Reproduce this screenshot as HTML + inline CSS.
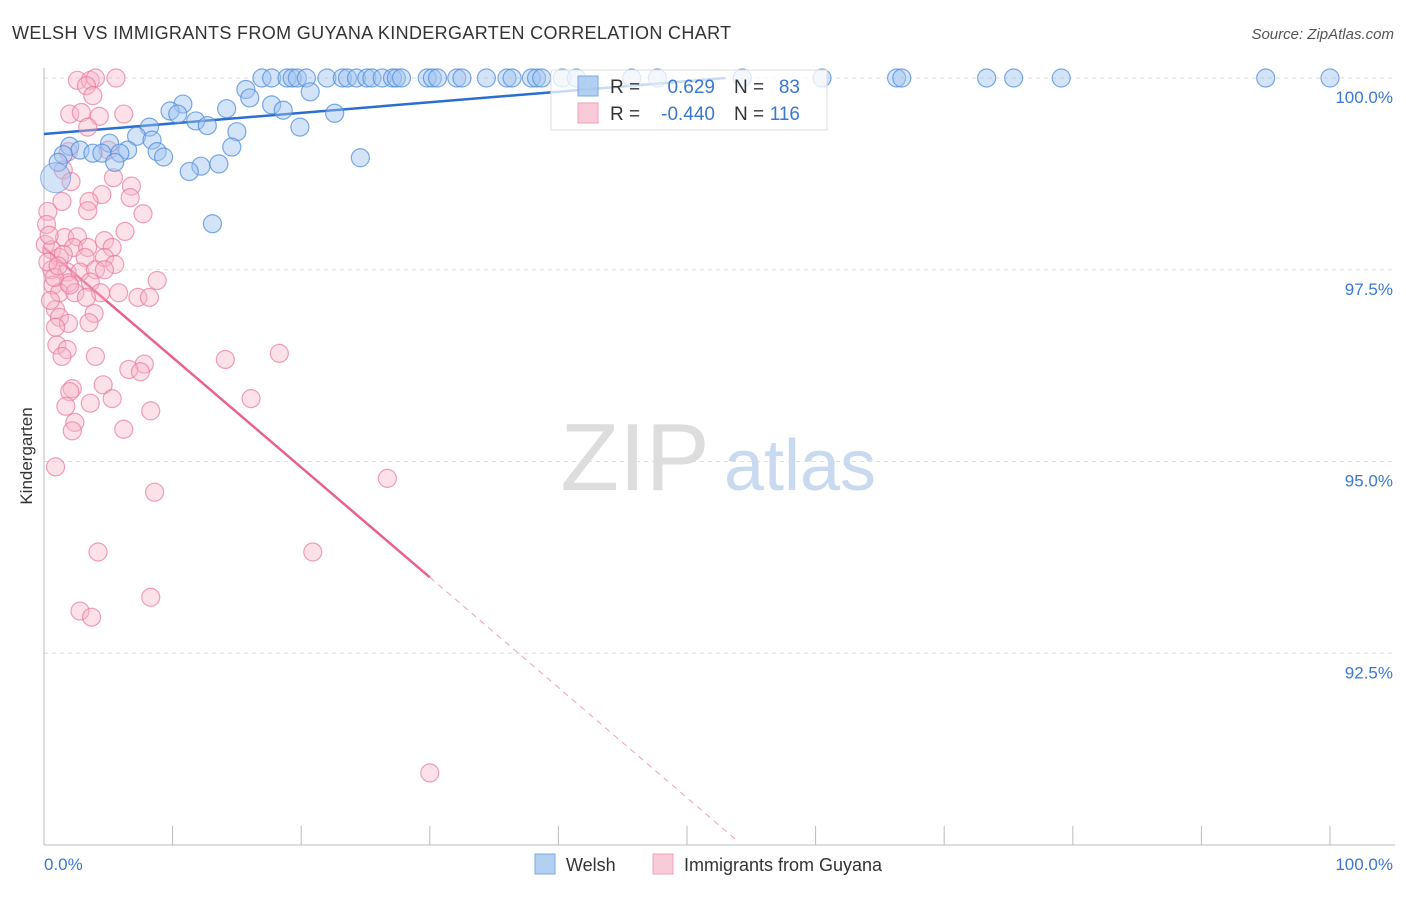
<!DOCTYPE html>
<html><head><meta charset="utf-8"><style>
body{margin:0;background:#fff;font-family:"Liberation Sans",sans-serif;}
svg text{font-family:"Liberation Sans",sans-serif;}
</style></head><body>
<svg id="chart" width="1406" height="892" xmlns="http://www.w3.org/2000/svg">
<text x="12" y="39" font-size="18" fill="#333" letter-spacing="0.35">WELSH VS IMMIGRANTS FROM GUYANA KINDERGARTEN CORRELATION CHART</text>
<text x="1394" y="39" font-size="15" fill="#555" text-anchor="end" font-style="italic">Source: ZipAtlas.com</text>
<text x="32" y="456" font-size="17" fill="#333" text-anchor="middle" transform="rotate(-90 32 456)">Kindergarten</text>
<g><text x="635" y="490" font-size="96" fill="#ddd" text-anchor="middle" font-family="Liberation Serif">ZIP</text><text x="800" y="490" font-size="72" fill="#c9daf0" text-anchor="middle">atlas</text></g>
<g id="grid"></g><g id="axes"></g><g id="lines"></g><g id="pts"></g>
<g>
<rect x="551" y="70" width="276" height="60" fill="rgba(255,255,255,0.75)" stroke="#ddd"/>
<rect x="578" y="76" width="20" height="20" fill="rgba(160,196,240,0.8)" stroke="#7aa8e0"/>
<rect x="578" y="103" width="20" height="20" fill="rgba(248,190,208,0.8)" stroke="#f0a0b8"/>
<text x="610" y="93" font-size="19" fill="#333">R =</text><text x="715" y="93" font-size="19" fill="#3a78d4" text-anchor="end">0.629</text>
<text x="734" y="93" font-size="19" fill="#333">N =</text><text x="800" y="93" font-size="19" fill="#3a78d4" text-anchor="end">83</text>
<text x="610" y="120" font-size="19" fill="#333">R =</text><text x="715" y="120" font-size="19" fill="#3a78d4" text-anchor="end">-0.440</text>
<text x="734" y="120" font-size="19" fill="#333">N =</text><text x="800" y="120" font-size="19" fill="#3a78d4" text-anchor="end">116</text>
</g>
<g>
<rect x="535" y="854" width="20" height="20" fill="rgba(160,196,240,0.8)" stroke="#7aa8e0"/>
<text x="566" y="871" font-size="18" fill="#333">Welsh</text>
<rect x="653" y="854" width="20" height="20" fill="rgba(248,190,208,0.8)" stroke="#f0a0b8"/>
<text x="684" y="871" font-size="18" fill="#333">Immigrants from Guyana</text>
</g>
</svg>
<script>
const yTicks=[100,97.5,95,92.5];
const yTickLabels=["100.0%","97.5%","95.0%","92.5%"];
const xTickLabels=["0.0%","100.0%"];
const welshX=[16.95,17.7,18.9,19.3,19.7,20.4,22.0,23.2,23.6,24.3,25.1,25.5,26.3,27.1,27.4,27.8,29.8,30.2,30.6,32.1,32.5,34.4,36.0,36.4,37.9,38.3,38.7,40.3,41.4,45.7,47.7,54.3,60.5,66.3,66.7,73.3,75.4,79.1,95.0,100,
15.7,16.0,10.8,9.8,10.4,14.2,17.7,18.6,20.7,22.6,11.8,12.7,8.2,15.0,19.9,7.2,8.4,14.6,5.1,6.5,2.0,2.8,3.8,4.5,1.5,5.9,8.8,9.3,5.5,12.2,11.3,13.6,24.6,1.1,13.1];
const welshY=[100,100,100,100,100,100,100,100,100,100,100,100,100,100,100,100,100,100,100,100,100,100,100,100,100,100,100,100,100,100,100,100,100,100,100,100,100,100,100,100,
99.85,99.74,99.66,99.57,99.53,99.6,99.65,99.58,99.82,99.54,99.44,99.38,99.36,99.3,99.36,99.24,99.19,99.1,99.15,99.06,99.11,99.06,99.02,99.02,99.0,99.02,99.04,98.97,98.9,98.85,98.78,98.88,98.96,98.9,98.1];
const guyX=[2.6,3.6,4.0,5.6,3.3,3.8,2.0,2.9,4.3,6.2,3.4,5.0,1.9,1.5,2.1,5.4,6.8,4.5,6.7,3.5,1.4,7.7,3.4,0.3,0.2,6.3,1.6,2.6,4.7,0.1,0.6,2.3,3.4,5.3,3.2,1.2,4.7,5.5,0.6,1.8,2.8,4.0,4.7,8.8,1.9,3.6,0.7,1.2,2.4,4.4,3.3,5.8,7.3,8.2,0.9,3.9,1.2,3.5,1.9,0.9,1.0,1.8,1.4,4.0,18.3,14.1,7.8,6.6,7.5,4.6,2.2,2.0,5.3,16.1,3.6,1.7,8.3,2.4,2.2,6.2,0.9,26.7,8.6,4.2,20.9,8.3,2.8,3.7,30.0,0.3,0.8,1.5,0.5,2.0,1.1,0.4];
const guyY=[99.97,99.97,100,100,99.9,99.77,99.53,99.55,99.5,99.53,99.36,99.06,99.04,98.8,98.65,98.7,98.59,98.48,98.44,98.39,98.39,98.23,98.27,98.26,98.09,98.0,97.92,97.93,97.88,97.83,97.76,97.79,97.79,97.79,97.66,97.66,97.66,97.57,97.5,97.47,97.47,97.5,97.5,97.36,97.33,97.34,97.3,97.2,97.2,97.2,97.14,97.2,97.14,97.14,96.98,96.93,96.88,96.81,96.8,96.75,96.52,96.46,96.37,96.37,96.41,96.33,96.27,96.2,96.17,96.0,95.95,95.91,95.82,95.82,95.76,95.72,95.66,95.51,95.4,95.42,94.93,94.78,94.6,93.82,93.82,93.23,93.05,92.97,90.94,97.6,97.4,97.7,97.1,97.3,97.55,97.95];
const welshTrend=[99.27,100,0,53];   // y at x0, y at x1, x0, x1
const guyTrend=[97.79,93.49,90.07,0,30,53.8]; // solid to 30, dashed to 53.8
const NS="http://www.w3.org/2000/svg";
const X=v=>44+v*12.86, Y=v=>78+(100-v)*76.7;
function mk(t,a,p){const e=document.createElementNS(NS,t);for(const k in a)e.setAttribute(k,a[k]);document.getElementById(p).appendChild(e);return e;}
yTicks.forEach((t,i)=>{
 const g=mk('line',{x1:44,x2:1395,y1:Y(t),y2:Y(t),stroke:'#ddd','stroke-dasharray':'4,4'},'grid');
 
 
 const l=mk('text',{x:1393,y:Y(t)+25,'font-size':17,fill:'#3a78d4','text-anchor':'end'},'axes');l.textContent=yTickLabels[i];
 
 
});
const ax=mk('line',{x1:44,x2:44,y1:68,y2:845,stroke:'#bbb'},'axes');


const bx=mk('line',{x1:44,x2:1395,y1:845,y2:845,stroke:'#bbb'},'axes');


for(let i=0;i<=10;i++){const t=mk('line',{x1:X(i*10),x2:X(i*10),y1:826,y2:845,stroke:'#bbb'},'axes');
 
 }
[[0,'start',44],[100,'end',1393]].forEach((d,i)=>{const l=mk('text',{x:d[2],y:870,'font-size':17,fill:'#3a78d4','text-anchor':d[1]},'axes');l.textContent=xTickLabels[i];
 
 });
guyX.forEach((x,i)=>{const c=mk('circle',{cx:X(x),cy:Y(guyY[i]),r:9,fill:'rgba(248,180,200,0.4)',stroke:'rgba(232,120,160,0.7)','stroke-width':1.2},'pts');
 
 });
welshX.forEach((x,i)=>{const c=mk('circle',{cx:X(x),cy:Y(welshY[i]),r:9,fill:'rgba(160,196,240,0.45)',stroke:'rgba(80,140,220,0.75)','stroke-width':1.2},'pts');
 
 });
const bigc=mk('circle',{cx:X(0.9),cy:Y(98.7),r:15,fill:'rgba(160,196,240,0.45)',stroke:'rgba(80,140,220,0.6)'},'pts');


const wl=mk('line',{x1:X(welshTrend[2]),y1:Y(welshTrend[0]),x2:X(welshTrend[3]),y2:Y(welshTrend[1]),stroke:'#2a6fd0','stroke-width':2.5},'lines');


const gl=mk('line',{x1:X(guyTrend[3]),y1:Y(guyTrend[0]),x2:X(guyTrend[4]),y2:Y(guyTrend[1]),stroke:'#e8628e','stroke-width':2.5},'lines');


const gd=mk('line',{x1:X(guyTrend[4]),y1:Y(guyTrend[1]),x2:X(guyTrend[5]),y2:Y(guyTrend[2]),stroke:'#f0a0b8','stroke-width':1,'stroke-dasharray':'6,5'},'lines');


</script>
</body></html>
